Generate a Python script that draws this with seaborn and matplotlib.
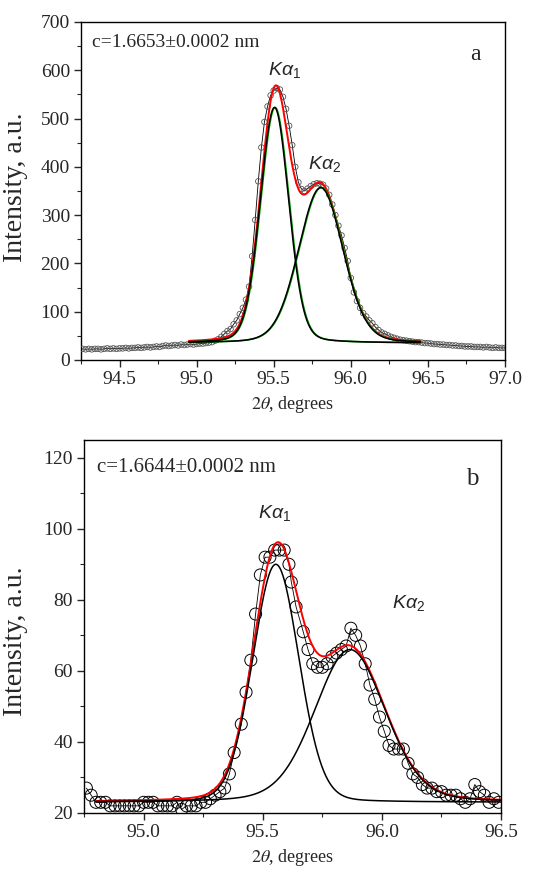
import numpy as np
import pandas as pd
import matplotlib
matplotlib.use("Agg")
import matplotlib.pyplot as plt
from matplotlib.ticker import MultipleLocator
import seaborn as sns

# ---------------- data: panel a ----------------
a_x = list(np.round(np.arange(94.26, 97.001, 0.02), 2))
a_y = [23, 22, 23, 22, 23, 23, 22, 23, 24, 23, 24, 23, 24, 24, 25, 24, 25, 25, 26, 25,
       26, 27, 26, 27, 28, 27, 29, 30, 29, 30, 31, 30, 32, 31, 32, 33, 32, 33,
       34, 34, 35, 36, 37, 40, 43, 48, 54, 60, 64, 74, 82, 95, 108, 125, 152, 215, 290, 370,
       440, 493, 525, 548, 558, 563, 560, 545, 520, 485, 445, 400, 368, 354, 350, 355, 360,
       364, 366, 365, 363, 355, 342, 322, 300, 278, 258, 232, 205, 170, 140, 122, 108, 97,
       90, 82, 76, 68, 62, 57, 54, 51, 48, 46, 44, 42, 41, 40, 39, 38, 37, 37, 36, 35, 35,
       34, 33, 33, 32, 32, 31, 31, 30, 30, 29, 29, 28, 28, 28, 27, 27, 27, 26, 27, 26, 25,
       26, 25, 25, 25]
# fitted peak parameters (centre, height above baseline, FWHM, Lorentz fraction)
a_centers = [95.505, 95.805]
a_heights = [488, 322]
a_fwhm = [0.218, 0.34]
a_eta = [0.15, 0.15]
a_base = 35
a_fit_range = [94.95, 96.45]

# ---------------- data: panel b ----------------
b_x = [94.76, 94.78, 94.80, 94.82, 94.84, 94.86, 94.88, 94.90, 94.92, 94.94, 94.96, 94.98,
       95.00, 95.02, 95.04, 95.06, 95.08, 95.10, 95.12, 95.14, 95.16, 95.18, 95.20, 95.22,
       95.24, 95.26, 95.28, 95.30, 95.32, 95.34, 95.36, 95.38, 95.41, 95.43, 95.45, 95.47,
       95.49, 95.51, 95.53, 95.55, 95.57, 95.59, 95.61, 95.62, 95.64, 95.67, 95.69, 95.71,
       95.73, 95.75, 95.77, 95.79, 95.81, 95.83, 95.85, 95.87, 95.89, 95.91, 95.93, 95.95,
       95.97, 95.99, 96.01, 96.03, 96.05, 96.07, 96.09, 96.11, 96.13, 96.15, 96.17, 96.19,
       96.21, 96.23, 96.25, 96.27, 96.29, 96.31, 96.33, 96.35, 96.37, 96.39, 96.41, 96.43,
       96.45, 96.47, 96.49]
b_y = [27, 25, 23, 23, 23, 22, 22, 22, 22, 22, 22, 22,
       23, 23, 23, 22, 22, 22, 22, 23, 21, 22, 22, 22,
       23, 23, 24, 25, 26, 27, 31, 37, 45, 54, 63, 76,
       87, 92, 92, 94, 94, 94, 90, 85, 78, 71, 66, 62,
       61, 61, 62, 64, 65, 66, 67, 72, 70, 67, 62, 56,
       52, 47, 43, 39, 38, 38, 38, 34, 31, 30, 28, 27,
       27, 26, 26, 25, 25, 25, 24, 23, 24, 28, 26, 25,
       23, 24, 23]
b_centers = [95.555, 95.866]
b_heights = [67, 43]
b_fwhm = [0.229, 0.35]
b_eta = [0.1, 0.2]
b_base = 23
b_fit_range = [94.80, 96.50]

a_xticks = [94.5, 95.0, 95.5, 96.0, 96.5, 97.0]
b_xticks = [95.0, 95.5, 96.0, 96.5]
a_yticks = [0, 100, 200, 300, 400, 500, 600, 700]
b_yticks = [20, 40, 60, 80, 100, 120]
a_note = "c=1.6653\u00b10.0002 nm"
b_note = "c=1.6644\u00b10.0002 nm"


def pvoigt(x, c, h, w, eta):
    d2 = (x - c) ** 2
    g = np.exp(-4 * np.log(2) * d2 / w ** 2)
    l = 1.0 / (1 + 4 * d2 / w ** 2)
    return h * ((1 - eta) * g + eta * l)


sns.set_theme(style="ticks")
plt.rcParams["font.family"] = ["Liberation Serif", "DejaVu Serif"]
plt.rcParams["mathtext.fontset"] = "custom"
plt.rcParams["mathtext.it"] = "Liberation Sans:italic"
plt.rcParams["mathtext.rm"] = "Liberation Sans"
plt.rcParams["axes.linewidth"] = 1.0

fig = plt.figure(figsize=(5.41, 8.75), dpi=100)
ax_a = fig.add_axes([0.1497, 0.5886, 0.7837, 0.3863])
ax_b = fig.add_axes([0.1553, 0.0709, 0.7708, 0.4263])


def draw(ax, xs, ys, centers, heights, fwhm, eta, base, fit_range, ms, mew, mec, green):
    xf = np.linspace(fit_range[0], fit_range[1], 800)
    comps = [base + pvoigt(xf, c, h, w, e) for c, h, w, e in zip(centers, heights, fwhm, eta)]
    total = base + sum(pvoigt(xf, c, h, w, e) for c, h, w, e in zip(centers, heights, fwhm, eta))
    # data: thin connecting line + open circles
    dfd = pd.DataFrame({"x": xs, "y": ys})
    sns.lineplot(data=dfd, x="x", y="y", ax=ax, color="black", lw=0.6,
                 sort=False, estimator=None, zorder=2)
    ax.scatter(dfd["x"], dfd["y"], s=ms, facecolors="none", edgecolors=mec,
               linewidths=mew, zorder=3)
    # total fit
    sns.lineplot(x=xf, y=total, ax=ax, color="#ff0000", lw=1.4, sort=False,
                 estimator=None, zorder=4)
    for comp in comps:
        if green:
            sns.lineplot(x=xf + 0.004, y=comp, ax=ax, color="#00a000", lw=1.2, sort=False,
                         estimator=None, zorder=5)
        sns.lineplot(x=xf, y=comp, ax=ax, color="black", lw=1.1, sort=False,
                     estimator=None, zorder=6)


draw(ax_a, a_x, a_y, a_centers, a_heights, a_fwhm, a_eta, a_base, a_fit_range,
     ms=16, mew=0.6, mec="#555555", green=True)
draw(ax_b, b_x, b_y, b_centers, b_heights, b_fwhm, b_eta, b_base, b_fit_range,
     ms=75, mew=0.7, mec="black", green=False)

ax_a.set_xlim(94.25, 97.0)
ax_a.set_ylim(0, 700)
ax_a.set_xticks(a_xticks)
ax_a.set_yticks(a_yticks)
ax_a.xaxis.set_minor_locator(MultipleLocator(0.25))
ax_a.yaxis.set_minor_locator(MultipleLocator(50))

ax_b.set_xlim(94.75, 96.5)
ax_b.set_ylim(20, 125)
ax_b.set_xticks(b_xticks)
ax_b.set_yticks(b_yticks)
ax_b.xaxis.set_minor_locator(MultipleLocator(0.25))
ax_b.yaxis.set_minor_locator(MultipleLocator(10))

for ax in (ax_a, ax_b):
    ax.xaxis.set_major_formatter(matplotlib.ticker.FormatStrFormatter("%.1f"))
    ax.tick_params(which="major", direction="out", length=5, width=1.0, labelsize=14,
                   top=False, right=False, pad=3)
    ax.tick_params(which="minor", direction="out", length=3, width=0.8,
                   top=False, right=False)
    for s in ax.spines.values():
        s.set_visible(True)
        s.set_color("black")
        s.set_linewidth(1.0)
    ax.set_ylabel("Intensity, a.u.", fontsize=20)
    ax.set_xlabel(r"$\mathit{2\theta}$, degrees", fontsize=13, labelpad=4,
                  math_fontfamily="stix")

ax_a.yaxis.set_label_coords(-0.125, 0.51)
ax_b.yaxis.set_label_coords(-0.134, 0.46)

ax_a.text(0.025, 0.94, a_note, transform=ax_a.transAxes, fontsize=14, va="center", ha="left")
ax_a.text(0.93, 0.905, "a", transform=ax_a.transAxes, fontsize=17, va="center", ha="center")
ax_b.text(0.03, 0.925, b_note, transform=ax_b.transAxes, fontsize=15, va="center", ha="left")
ax_b.text(0.93, 0.895, "b", transform=ax_b.transAxes, fontsize=18, va="center", ha="center")

ax_a.text(95.57, 600, r"$K\alpha_1$", fontsize=14, ha="center", va="center")
ax_a.text(95.83, 405, r"$K\alpha_2$", fontsize=14, ha="center", va="center")
ax_b.text(95.55, 104.5, r"$K\alpha_1$", fontsize=14, ha="center", va="center")
ax_b.text(96.11, 79, r"$K\alpha_2$", fontsize=14, ha="center", va="center")

fig.savefig("out.png", dpi=100)
